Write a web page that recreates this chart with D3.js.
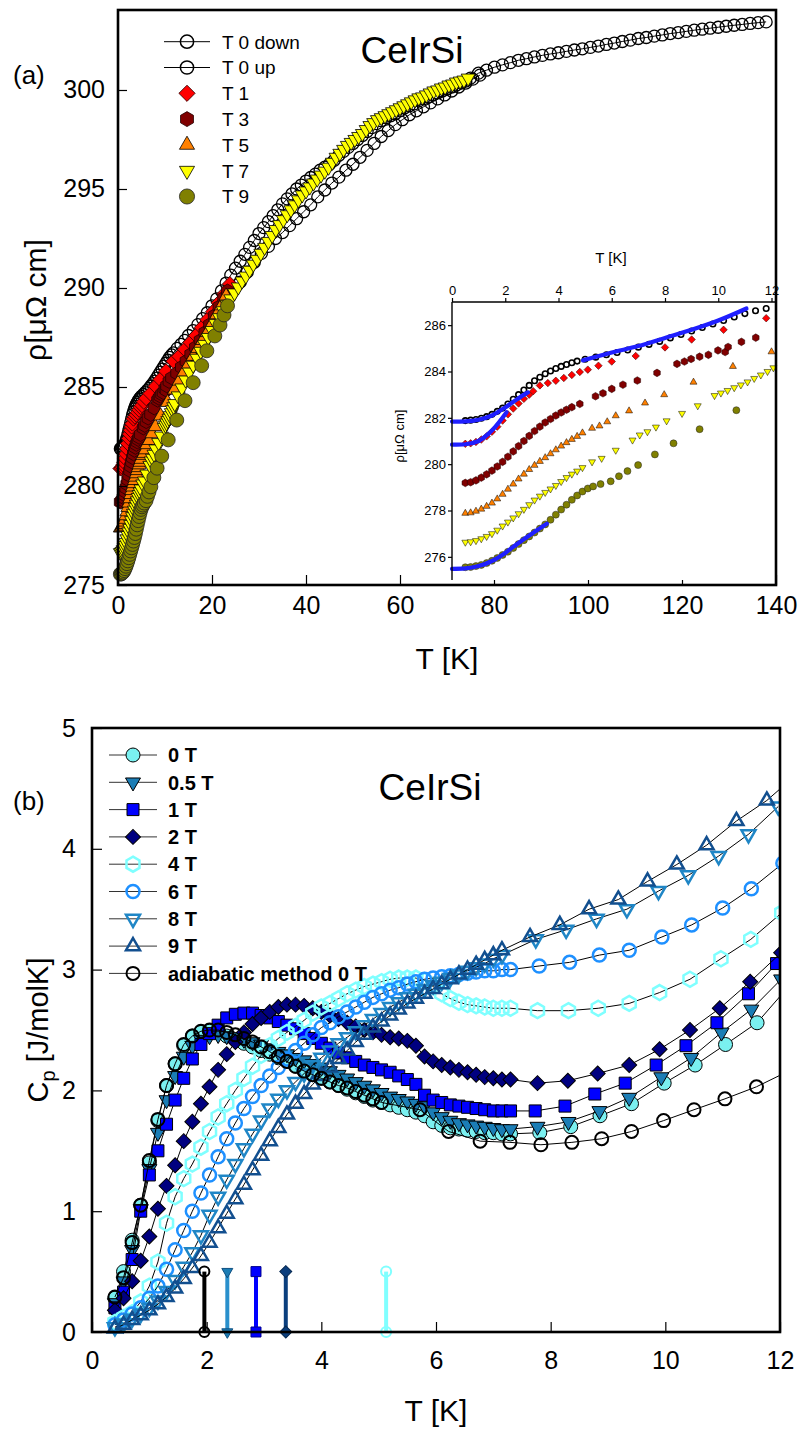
<!DOCTYPE html>
<html>
<head>
<meta charset="utf-8">
<script src="https://cdn.jsdelivr.net/npm/d3@7"></script>
<style>
  body { margin: 0; background: #fff; }
</style>
</head>
<body>
<div id="chart"></div>
<script>
// ---------- panel (a): resistivity, [T (K), rho (µΩ cm)] ----------
const rhoT0down = [
  [0.5,281.88],[0.7,281.9],[0.9,281.93],[1.1,281.98],[1.3,282.05],[1.5,282.15],[1.7,282.28],[1.9,282.42],
  [2.1,282.6],[2.3,282.8],[2.5,283.0],[2.7,283.2],[2.9,283.4],[3.1,283.6],[3.3,283.75],[3.5,283.9],
  [3.7,284.02],[3.9,284.13],[4.1,284.22],[4.3,284.3],[4.5,284.38],[4.7,284.45],[5.0,284.53],[5.4,284.62],
  [5.8,284.72],[6.2,284.82],[6.6,284.93],[7.0,285.05],[7.4,285.17],[7.8,285.3],[8.2,285.45],[8.6,285.6],
  [9.0,285.75],[9.4,285.9],[9.8,286.05],[10.2,286.2],[10.6,286.35],[11.0,286.5],[11.4,286.62],[11.8,286.72],
  [12.6,286.95],[13.4,287.15],[14.2,287.35],[15,287.6],[16,287.85],[17,288.15],[18,288.45],[19,288.75],
  [20,289.1],[21,289.45],[22,289.85],[23,290.25],[24,290.65],[25,291.0],[26,291.35],[27,291.7],
  [28,292.05],[29,292.4],[30,292.75],[31,293.05],[32,293.35],[33,293.65],[34,293.95],[35,294.25],
  [36,294.5],[37,294.75],[38,295.0],[39,295.2],[40,295.4],[41,295.58],[42,295.75],[43,295.95],
  [44,296.1],[45,296.25],[46,296.45],[47,296.7],[48,296.9],[49,297.1],[50,297.3],[51,297.5],
  [52,297.7],[53,297.9],[54,298.1],[55,298.3],[56,298.45],[57,298.6],[58,298.7],[59,298.8],
  [60,298.95],[61,299.1],[62,299.2],[63,299.3],[64,299.45],[65,299.55],[66,299.65],[67,299.75],
  [68,299.85],[69,299.95],[70,300.05],[71,300.15],[72,300.25],[73,300.35],[74,300.45],[75,300.6],
  [76.7,300.85],[78.4,301.0],[80.1,301.15],[81.8,301.27],[83.5,301.38],[85.2,301.5],[86.9,301.58],[88.6,301.67],
  [90.3,301.75],[92,301.82],[93.7,301.88],[95.4,301.95],[97.1,302.02],[98.8,302.08],[100.5,302.15],[102.2,302.22],
  [103.9,302.3],[105.6,302.37],[107.3,302.45],[109,302.52],[110.7,302.6],[112.4,302.65],[114.1,302.72],[115.8,302.78],
  [117.5,302.85],[119.2,302.9],[120.9,302.96],[122.6,303.02],[124.3,303.07],[126,303.12],[127.7,303.17],[129.4,303.22],
  [131.1,303.27],[132.8,303.31],[134.5,303.36],[136.2,303.4],[137.9,303.44]
];
const rhoT0up = [
  [26,290.3],[27.5,290.8],[29,291.3],[30.5,291.75],[32,292.1],[33.5,292.5],[35,292.8],[36.5,293.15],
  [38,293.5],[39.5,293.85],[41,294.2],[42.5,294.6],[44,294.95],[45.5,295.3],[47,295.6],[48.5,295.95],
  [50,296.25],[51.5,296.6],[53,296.95],[54.5,297.3],[56,297.65],[57.5,297.95],[59,298.25],[60.5,298.5],
  [62,298.75],[63.5,298.95],[65,299.15],[66.5,299.35],[68,299.55],[69.5,299.75],[71,299.95],[72.5,300.15],
  [74,300.35],[75.5,300.55],[77,300.75]
];
const rhoT1 = [
  [0.5,280.88],[0.7,280.9],[0.9,280.96],[1.1,281.06],[1.3,281.2],[1.5,281.4],[1.7,281.62],[1.9,281.88],
  [2.1,282.15],[2.3,282.4],[2.5,282.62],[2.7,282.82],[2.9,283.0],[3.05,283.15],[3.3,283.4],[3.6,283.5],
  [3.9,283.6],[4.2,283.72],[4.5,283.85],[4.8,283.98],[5.1,284.08],[5.5,284.25],[6.0,284.43],[6.9,284.67],
  [8.0,285.04],[9.0,285.38],[10.2,285.8],[11.8,286.3],[13,286.55],[14.2,286.9],[15.4,287.25],[16.6,287.6],
  [17.8,288.0],[19,288.4],[20.2,288.8],[21.4,289.25],[22.6,289.7],[23.8,290.2]
];
const rhoT3 = [
  [0.5,279.19],[0.7,279.22],[0.9,279.3],[1.1,279.42],[1.3,279.56],[1.5,279.72],[1.7,279.9],[1.9,280.1],
  [2.1,280.32],[2.3,280.55],[2.5,280.78],[2.7,281.0],[2.9,281.22],[3.1,281.43],[3.3,281.62],[3.5,281.8],
  [3.7,281.95],[3.9,282.1],[4.1,282.23],[4.3,282.35],[4.5,282.46],[4.8,282.6],[5.39,282.93],[5.67,283.06],
  [6.0,283.25],[6.42,283.43],[6.96,283.61],[7.7,283.94],[8.45,284.33],[8.73,284.43],[8.98,284.54],[9.3,284.64],
  [9.63,284.72],[9.99,284.91],[10.26,284.84],[10.37,285.06],[10.87,285.28],[11.41,285.46],[12.5,285.7],[13.5,286.0],
  [14.5,286.3],[15.5,286.65],[16.5,287.0],[17.5,287.35],[18.5,287.75],[19.5,288.15],[20.5,288.6],[21.5,289.05],
  [22.5,289.5],[23.3,289.85]
];
const rhoT5 = [
  [0.5,277.88],[0.7,277.9],[0.9,277.97],[1.1,278.06],[1.3,278.18],[1.5,278.32],[1.7,278.5],[1.9,278.7],
  [2.1,278.92],[2.3,279.14],[2.5,279.36],[2.7,279.57],[2.9,279.77],[3.1,279.95],[3.3,280.12],[3.5,280.28],
  [3.7,280.45],[3.9,280.62],[4.1,280.78],[4.3,280.93],[4.5,281.07],[4.7,281.2],[4.9,281.35],[5.26,281.55],
  [5.54,281.65],[5.83,281.83],[6.15,282.09],[6.65,282.3],[7.25,282.64],[7.97,283.0],[9.07,283.54],[10.55,284.22],
  [12,284.85],[13,285.3],[14,285.75],[15,286.15],[16,286.55],[17,286.95],[18,287.35],[19,287.75],
  [20,288.2],[21,288.65],[22,289.1],[23,289.6]
];
const rhoT7 = [
  [0.5,276.63],[0.7,276.65],[0.9,276.7],[1.1,276.78],[1.3,276.88],[1.5,277.0],[1.7,277.15],[1.9,277.33],
  [2.1,277.5],[2.3,277.68],[2.5,277.86],[2.7,278.05],[2.9,278.25],[3.1,278.45],[3.3,278.62],[3.5,278.78],
  [3.7,278.93],[3.9,279.08],[4.1,279.25],[4.3,279.42],[4.5,279.57],[4.7,279.7],[4.9,279.85],[5.26,280.1],
  [5.62,280.25],[6.15,280.6],[6.78,281.04],[7.05,281.26],[7.34,281.4],[7.66,281.6],[8.06,281.87],[8.64,282.19],
  [9.23,282.52],[9.86,282.96],[10.1,283.07],[10.35,283.18],[10.6,283.3],[10.85,283.42],[11.1,283.55],[11.35,283.7],
  [11.6,283.85],[11.85,284.0],[12.07,284.16],[12.8,284.55],[13.6,284.95],[14.4,285.35],[15.2,285.75],[16,286.1],
  [16.8,286.45],[17.6,286.8],[18.4,287.15],[19.2,287.5],[20,287.85],[20.8,288.2],[21.6,288.5],[22.4,288.85],
  [23.2,289.15],[24,289.45],[24.8,289.75],[25.6,290.05],[26.4,290.35],[27.2,290.6],[28,290.9],[28.8,291.2],
  [29.6,291.45],[30.4,291.75],[31.2,292.05],[32,292.35],[32.8,292.65],[33.6,292.95],[34.4,293.2],[35.2,293.45],
  [36,293.7],[36.8,293.95],[37.6,294.2],[38.4,294.45],[39.2,294.7],[40,294.9],[40.8,295.1],[41.6,295.3],
  [42.4,295.5],[43.2,295.7],[44,295.9],[44.8,296.1],[45.6,296.35],[46.4,296.6],[47.2,296.8],[48,297.0],
  [48.8,297.2],[49.6,297.35],[50.4,297.5],[51.2,297.65],[52,297.8],[52.8,298.0],[53.6,298.2],[54.4,298.35],
  [55.2,298.5],[56,298.6],[56.8,298.7],[57.6,298.8],[58.4,298.9],[59.2,299.0],[60,299.1],[60.8,299.2],
  [61.6,299.3],[62.4,299.4],[63.2,299.5],[64,299.6],[64.8,299.65],[65.6,299.75],[66.4,299.85],[67.2,299.95],
  [68,300.0],[68.8,300.1],[69.6,300.15],[70.4,300.25],[71.2,300.3],[72,300.4],[72.8,300.45],[73.6,300.5],
  [74.5,300.6]
];
const rhoT9 = [
  [0.5,275.55],[0.7,275.56],[0.9,275.6],[1.1,275.65],[1.3,275.73],[1.5,275.83],[1.7,275.95],[1.9,276.08],
  [2.1,276.22],[2.3,276.38],[2.5,276.55],[2.7,276.72],[2.9,276.88],[3.1,277.05],[3.3,277.22],[3.5,277.4],
  [3.7,277.6],[3.9,277.82],[4.1,278.04],[4.3,278.25],[4.5,278.46],[4.7,278.65],[4.9,278.82],[5.1,278.95],
  [5.3,279.04],[5.58,279.14],[5.96,279.26],[6.27,279.48],[6.59,279.7],[6.99,279.96],[7.62,280.42],[8.32,280.9],
  [9.3,281.51],[10.68,282.33],[12.5,283.33],[14.25,284.31],[16.0,285.22],[17.8,286.08],[18.9,286.83],[20.6,287.58],
  [21.7,288.13],[22.55,288.64],[23.3,289.1]
];
// blue fitted curves drawn in the inset
const fitA = [[0,281.84],[0.5,281.85],[1.0,281.92],[1.5,282.1],[2.0,282.45],[2.5,282.85],[2.85,283.1]];
const fitB = [[0,280.84],[0.5,280.86],[1.0,281.0],[1.5,281.45],[2.05,282.24]];
const fitC = [[0,275.48],[0.5,275.5],[1.0,275.6],[1.5,275.82],[2.0,276.17],[2.5,276.6],[3.0,277.0],[3.56,277.43]];
const fitD = [[4.92,284.48],[6,284.82],[7,285.1],[8,285.45],[9,285.8],[10,286.2],[11.06,286.72]];

const rhoTicks = [275, 280, 285, 290, 295, 300];
const tTicksA = [0, 20, 40, 60, 80, 100, 120, 140];
const insetRhoTicks = [276, 278, 280, 282, 284, 286];
const insetTTicks = [0, 2, 4, 6, 8, 10, 12];
const legendA = ["T 0 down", "T 0 up", "T 1", "T 3", "T 5", "T 7", "T 9"];

// ---------- panel (b): specific heat, C_p (J/molK) ----------
const tGrid = [0.40,0.55,0.70,0.85,1.00,1.15,1.30,1.45,1.60,1.75,1.90,2.05,2.20,2.35,2.50,2.65,2.80,2.95,
  3.10,3.25,3.40,3.55,3.70,3.85,4.00,4.15,4.30,4.45,4.60,4.75,4.90,5.05,5.20,5.35,5.50,5.65,5.80,5.95,
  6.10,6.25,6.40,6.55,6.70,6.85,7.00,7.15,7.30];
const cp0 = [0.28,0.50,0.76,1.05,1.40,1.75,2.04,2.22,2.37,2.45,2.48,2.49,2.48,2.45,2.42,2.39,2.36,2.33,
  2.30,2.27,2.24,2.20,2.16,2.13,2.10,2.07,2.04,2.01,1.98,1.95,1.92,1.90,1.88,1.86,1.84,1.82,1.79,1.74,
  1.71,1.69,1.68,1.67,1.66,1.65,1.65,1.64,1.64];
const cp0High = [[7.81,1.65],[8.35,1.70],[8.86,1.79],[9.41,1.89],[9.98,2.06],[10.52,2.21],[11.05,2.38],[11.6,2.56],[12.15,2.86]];
const cp05 = [0.24,0.42,0.68,1.02,1.35,1.65,1.92,2.12,2.28,2.37,2.42,2.45,2.46,2.45,2.44,2.42,2.40,2.38,
  2.35,2.32,2.30,2.27,2.25,2.22,2.19,2.16,2.13,2.10,2.07,2.04,2.01,1.98,1.95,1.93,1.91,1.89,1.87,1.82,
  1.78,1.75,1.73,1.72,1.71,1.70,1.69,1.68,1.68];
const cp05High = [[7.77,1.70],[8.31,1.74],[8.85,1.83],[9.37,1.94],[9.93,2.11],[10.45,2.27],[10.98,2.48],[11.5,2.67],[12.02,2.92]];
const cp1 = [0.20,0.33,0.60,1.00,1.30,1.50,1.72,1.92,2.10,2.26,2.38,2.47,2.54,2.60,2.63,2.64,2.64,2.62,
  2.60,2.57,2.54,2.51,2.47,2.43,2.39,2.35,2.31,2.27,2.24,2.21,2.19,2.17,2.15,2.12,2.09,2.05,1.96,1.92,
  1.90,1.88,1.87,1.86,1.85,1.84,1.83,1.83,1.83];
const cp1High = [[7.73,1.83],[8.25,1.87],[8.77,1.97],[9.3,2.06],[9.84,2.21],[10.36,2.37],[10.9,2.56],[11.45,2.80],[11.94,3.05]];
const cp2 = [0.18,0.28,0.42,0.59,0.79,1.02,1.21,1.38,1.58,1.74,1.89,2.03,2.17,2.30,2.40,2.48,2.55,2.60,
  2.65,2.69,2.71,2.71,2.70,2.68,2.65,2.62,2.59,2.56,2.53,2.50,2.48,2.46,2.44,2.43,2.41,2.37,2.28,2.24,
  2.21,2.19,2.17,2.15,2.13,2.11,2.10,2.09,2.09];
const cp2High = [[7.77,2.06],[8.3,2.08],[8.82,2.14],[9.37,2.21],[9.9,2.34],[10.43,2.50],[10.95,2.68],[11.48,2.90],[12.02,3.14]];
const cp4 = [0.08,0.12,0.16,0.25,0.38,0.58,0.90,1.12,1.27,1.39,1.53,1.66,1.78,1.89,2.00,2.10,2.20,2.29,
  2.37,2.43,2.48,2.53,2.58,2.64,2.69,2.72,2.76,2.80,2.83,2.86,2.88,2.90,2.92,2.93,2.93,2.93,2.91,2.86,
  2.80,2.76,2.73,2.71,2.70,2.69,2.68,2.68,2.68];
const cp4High = [[7.77,2.66],[8.31,2.66],[8.83,2.68],[9.37,2.72],[9.9,2.81],[10.43,2.92],[10.97,3.09],[11.49,3.25],[12.03,3.47]];
const cp6 = [0.06,0.10,0.15,0.20,0.28,0.38,0.52,0.68,0.84,1.00,1.15,1.30,1.45,1.60,1.73,1.85,1.95,2.04,
  2.12,2.19,2.26,2.33,2.39,2.46,2.52,2.56,2.61,2.65,2.69,2.73,2.77,2.80,2.83,2.85,2.88,2.90,2.92,2.93,
  2.94,2.95,2.96,2.97,2.98,2.99,2.99,3.00,3.00];
const cp6High = [[7.8,3.03],[8.33,3.06],[8.85,3.12],[9.37,3.16],[9.94,3.27],[10.46,3.37],[11.0,3.51],[11.5,3.67],[12.05,3.88]];
const cp8 = [0.04,0.07,0.11,0.15,0.20,0.26,0.34,0.43,0.54,0.66,0.80,0.97,1.12,1.26,1.39,1.52,1.64,1.75,
  1.85,1.93,2.00,2.07,2.14,2.21,2.27,2.33,2.39,2.44,2.49,2.54,2.59,2.64,2.69,2.73,2.77,2.80,2.84,2.87,
  2.90,2.93,2.96,2.99,3.02,3.05,3.09,3.12];
const cp8High = [[7.74,3.25],[8.27,3.33],[8.8,3.42],[9.33,3.50],[9.88,3.65],[10.4,3.78],[10.93,3.94],[11.45,4.12],[11.97,4.35]];
const cp9 = [0.03,0.06,0.10,0.14,0.18,0.23,0.29,0.36,0.44,0.53,0.63,0.74,0.86,0.98,1.10,1.22,1.34,1.46,
  1.58,1.69,1.80,1.89,1.97,2.05,2.12,2.19,2.26,2.33,2.40,2.46,2.52,2.57,2.62,2.67,2.72,2.76,2.80,2.84,
  2.88,2.92,2.96,3.00,3.04,3.08,3.12,3.16];
const cp9High = [[7.64,3.27],[8.16,3.37],[8.67,3.50],[9.18,3.58],[9.69,3.73],[10.2,3.87],[10.72,4.03],[11.24,4.23],[11.77,4.40],[12.3,4.62]];
const cpAd = [0.29,0.45,0.74,1.05,1.42,1.76,2.04,2.22,2.38,2.45,2.49,2.50,2.50,2.48,2.46,2.43,2.40,2.36,
  2.32,2.28,2.24,2.20,2.16,2.13,2.10,2.07,2.04,2.02,1.99,1.96,1.93,1.90];
const cpAdHigh = [[5.72,1.84],[6.22,1.66],[6.77,1.58],[7.29,1.57],[7.83,1.55],[8.37,1.57],[8.89,1.60],[9.41,1.66],
  [9.97,1.75],[10.5,1.84],[11.04,1.93],[11.59,2.03],[12.15,2.16]];
const legendB = ["0 T", "0.5 T", "1 T", "2 T", "4 T", "6 T", "8 T", "9 T", "adiabatic method 0 T"];
// transition temperatures marked at the bottom (adiabatic, 0.5 T, 1 T, 2 T, 4 T)
const tcValues = [1.96, 2.36, 2.86, 3.38, 5.13];
const cpTicks = [0, 1, 2, 3, 4, 5];
const tTicksB = [0, 2, 4, 6, 8, 10, 12];

// ---------- drawing ----------
const FONT = '"Liberation Sans", Arial, Helvetica, sans-serif';
const svg = d3.select("#chart").append("svg")
    .attr("width", 803)
    .attr("height", 1430)
    .style("font-family", FONT);

// pointy-top hexagon as a d3 symbol type
const symbolHexagon = {
  draw(context, size) {
    const r = Math.sqrt(size / (1.5 * Math.sqrt(3)));
    for (let i = 0; i < 6; i++) {
      const a = Math.PI / 3 * i - Math.PI / 2;
      if (i === 0) context.moveTo(r * Math.cos(a), r * Math.sin(a));
      else context.lineTo(r * Math.cos(a), r * Math.sin(a));
    }
    context.closePath();
  }
};

// w = rough marker width in px
function symPath(shape, w) {
  let type = d3.symbolCircle, size = Math.PI * w * w / 4;
  if (shape === "square") { type = d3.symbolSquare; size = w * w; }
  if (shape === "diamond") { type = d3.symbolSquare; size = w * w / 2; }
  if (shape === "up" || shape === "down") { type = d3.symbolTriangle; size = Math.sqrt(3) / 4 * w * w; }
  if (shape === "hex") { type = symbolHexagon; size = Math.sqrt(3) / 2 * w * w; }
  return d3.symbol().type(type).size(size)();
}
function rotOf(shape) {
  return shape === "down" ? " rotate(180)" : shape === "diamond" ? " rotate(45)" : "";
}
function drawMarks(g, data, x, y, st) {
  g.append("g").selectAll("path")
    .data(data)
    .enter().append("path")
    .attr("d", symPath(st.shape, st.w))
    .attr("transform", d => `translate(${x(d[0])},${y(d[1])})` + rotOf(st.shape))
    .attr("fill", st.fill)
    .attr("stroke", st.stroke)
    .attr("stroke-width", st.sw);
}
function drawLine(g, data, x, y, color, width) {
  g.append("path")
    .datum(data)
    .attr("fill", "none")
    .attr("stroke", color)
    .attr("stroke-width", width)
    .attr("d", d3.line().x(d => x(d[0])).y(d => y(d[1])));
}
function styleAxis(g, size) {
  g.select(".domain").remove();
  g.attr("font-family", FONT).attr("font-size", size);
  g.selectAll(".tick line").attr("stroke", "#000").attr("stroke-width", 1.2);
  g.selectAll(".tick text").attr("fill", "#000");
}

// ===== panel (a) =====
const A = { left: 118, right: 776, top: 10, bottom: 585 };
const xA = d3.scaleLinear().domain([0, 140]).range([A.left, A.right]);
const yA = d3.scaleLinear().domain([275, 304.04]).range([A.bottom, A.top]);

const seriesA = [
  { data: rhoT0down, line: true, st: { shape: "circle", w: 12, fill: "none", stroke: "#000", sw: 1.3 } },
  { data: rhoT0up,   line: true, st: { shape: "circle", w: 12, fill: "none", stroke: "#000", sw: 1.3 } },
  { data: rhoT1, st: { shape: "diamond", w: 15, fill: "#FF0000", stroke: "#300", sw: 0.8 } },
  { data: rhoT3, st: { shape: "hex", w: 12, fill: "#800000", stroke: "#200", sw: 0.8 } },
  { data: rhoT5, st: { shape: "up", w: 14, fill: "#FF8000", stroke: "#000", sw: 0.8 } },
  { data: rhoT7, st: { shape: "down", w: 14, fill: "#FFFF00", stroke: "#000", sw: 0.8 } },
  { data: rhoT9, st: { shape: "circle", w: 14, fill: "#808000", stroke: "#222", sw: 0.8 } }
];

const gA = svg.append("g");
seriesA.forEach(s => {
  if (s.line) drawLine(gA, s.data, xA, yA, "#000", 1);
  drawMarks(gA, s.data, xA, yA, s.st);
});

const axAx = svg.append("g").attr("transform", `translate(0,${A.bottom})`)
    .call(d3.axisBottom(xA).tickValues(tTicksA).tickSize(-10).tickPadding(11));
styleAxis(axAx, 25);
const axAy = svg.append("g").attr("transform", `translate(${A.left},0)`)
    .call(d3.axisLeft(yA).tickValues(rhoTicks).tickSize(-9).tickPadding(13));
styleAxis(axAy, 25);

// inset
const I = { left: 452, right: 775, top: 302, bottom: 580 };
const xI = d3.scaleLinear().domain([0, 12]).range([I.left, 771.5]);
const yI = d3.scaleLinear().domain([275, 287]).range([I.bottom, I.top]);
svg.append("rect").attr("x", I.left).attr("y", I.top)
    .attr("width", I.right - I.left).attr("height", I.bottom - I.top).attr("fill", "#fff");
const gI = svg.append("g");
const insetW = [5.5, 5.5, 7.5, 6.6, 7, 7, 7];
const insetSw = [1.6, 1.6, 0.5, 0.5, 0.5, 0.5, 0.5];
seriesA.forEach((s, i) => {
  const pts = s.data.filter(d => d[0] <= 12.1);
  if (!pts.length) return;
  const st = Object.assign({}, s.st, { w: insetW[i], sw: insetSw[i] });
  drawMarks(gI, pts, xI, yI, st);
});
[fitA, fitB, fitC, fitD].forEach(f => {
  gI.append("path").datum(f)
    .attr("fill", "none").attr("stroke", "#1F1FFF").attr("stroke-width", 4.2)
    .attr("stroke-linecap", "round")
    .attr("d", d3.line().x(d => xI(d[0])).y(d => yI(d[1])).curve(d3.curveMonotoneX));
});
const axIx = svg.append("g").attr("transform", `translate(0,${I.top})`)
    .call(d3.axisTop(xI).tickValues(insetTTicks).tickSize(4).tickPadding(3));
styleAxis(axIx, 13);
const axIy = svg.append("g").attr("transform", `translate(${I.left},0)`)
    .call(d3.axisLeft(yI).tickValues(insetRhoTicks).tickSize(4).tickPadding(2));
styleAxis(axIy, 13);
svg.append("line").attr("x1", I.left).attr("x2", I.right).attr("y1", I.top).attr("y2", I.top)
    .attr("stroke", "#000").attr("stroke-width", 1.4);
svg.append("line").attr("x1", I.left).attr("x2", I.left).attr("y1", I.top).attr("y2", I.bottom)
    .attr("stroke", "#000").attr("stroke-width", 1.4);
svg.append("text").attr("x", 611).attr("y", 263).attr("text-anchor", "middle")
    .attr("font-size", 15).text("T [K]");
svg.append("text").attr("transform", "translate(404,436) rotate(-90)").attr("text-anchor", "middle")
    .attr("font-size", 13).text("ρ[μΩ cm]");

// frame of (a)
svg.append("rect").attr("x", A.left).attr("y", A.top)
    .attr("width", A.right - A.left).attr("height", A.bottom - A.top)
    .attr("fill", "none").attr("stroke", "#000").attr("stroke-width", 2.6);

// legend (a)
const legA = svg.append("g");
legendA.forEach((name, i) => {
  const yy = 41.7 + i * 25.8;
  const s = seriesA[i];
  if (s.line) legA.append("line").attr("x1", 164).attr("x2", 210).attr("y1", yy).attr("y2", yy)
      .attr("stroke", "#000").attr("stroke-width", 1);
  const st = Object.assign({}, s.st, { w: s.st.w * (i < 2 ? 1.1 : 1.08), sw: i < 2 ? 1.5 : s.st.sw });
  drawMarks(legA, [[0, 0]], () => 187, () => yy, st);
  legA.append("text").attr("x", 222).attr("y", yy).attr("dy", "0.36em")
      .attr("font-size", 19).text(name);
});

svg.append("text").attr("x", 412).attr("y", 63).attr("text-anchor", "middle")
    .attr("font-size", 37).text("CeIrSi");
svg.append("text").attr("x", 13).attr("y", 84).attr("font-size", 26).text("(a)");
svg.append("text").attr("x", (A.left + A.right) / 2).attr("y", 669).attr("text-anchor", "middle")
    .attr("font-size", 30).text("T [K]");
svg.append("text").attr("transform", "translate(46,300) rotate(-90)").attr("text-anchor", "middle")
    .attr("font-size", 30).text("ρ[μΩ cm]");

// ===== panel (b) =====
const B = { left: 92, right: 780, top: 728, bottom: 1332 };
const xB = d3.scaleLinear().domain([0, 12]).range([B.left, B.right]);
const yB = d3.scaleLinear().domain([0, 5]).range([B.bottom, B.top]);

function joinGrid(cp, high) {
  return cp.map((c, i) => [tGrid[i], c]).concat(high);
}
const seriesB = [
  { data: joinGrid(cp0, cp0High),   st: { shape: "circle", w: 14, fill: "#7AF0F0", stroke: "#000", sw: 1 } },
  { data: joinGrid(cp05, cp05High), st: { shape: "down", w: 15, fill: "#1B7DB5", stroke: "#000", sw: 1 } },
  { data: joinGrid(cp1, cp1High),   st: { shape: "square", w: 12, fill: "#0000FF", stroke: "#000", sw: 1 } },
  { data: joinGrid(cp2, cp2High),   st: { shape: "diamond", w: 15, fill: "#000080", stroke: "#000", sw: 1 } },
  { data: joinGrid(cp4, cp4High),   st: { shape: "hex", w: 13, fill: "none", stroke: "#7FFFFF", sw: 2.5 } },
  { data: joinGrid(cp6, cp6High),   st: { shape: "circle", w: 13, fill: "none", stroke: "#1E90FF", sw: 2.5 } },
  { data: joinGrid(cp8, cp8High),   st: { shape: "down", w: 14, fill: "none", stroke: "#1F86C6", sw: 2.5 } },
  { data: joinGrid(cp9, cp9High),   st: { shape: "up", w: 14, fill: "none", stroke: "#124F8F", sw: 2.5 } },
  { data: joinGrid(cpAd, cpAdHigh), st: { shape: "circle", w: 13, fill: "none", stroke: "#000", sw: 2 } }
];

svg.append("clipPath").attr("id", "clipB").append("rect")
    .attr("x", B.left - 20).attr("y", B.top).attr("width", B.right - B.left + 20).attr("height", B.bottom - B.top + 20);
const gB = svg.append("g").attr("clip-path", "url(#clipB)");
seriesB.forEach(s => {
  drawLine(gB, s.data, xB, yB, "#000", 1);
  drawMarks(gB, s.data, xB, yB, s.st);
});

// Tc markers
const tcStyles = [
  { color: "#000", st: { shape: "circle", w: 10, fill: "none", stroke: "#000", sw: 2 } },
  { color: "#2A90CC", st: { shape: "down", w: 11, fill: "#1B7DB5", stroke: "#0F4F80", sw: 1 } },
  { color: "#0000FF", st: { shape: "square", w: 10, fill: "#0000FF", stroke: "#000090", sw: 1 } },
  { color: "#0B3F7E", st: { shape: "diamond", w: 12, fill: "#0B3F7E", stroke: "#062850", sw: 1 } },
  { color: "#80FFFF", st: { shape: "circle", w: 10, fill: "none", stroke: "#80FFFF", sw: 2 } }
];
tcValues.forEach((t, i) => {
  const s = tcStyles[i];
  svg.append("line").attr("x1", xB(t)).attr("x2", xB(t)).attr("y1", yB(0)).attr("y2", yB(0.5))
      .attr("stroke", s.color).attr("stroke-width", 4);
  drawMarks(svg, [[t, 0], [t, 0.5]], xB, yB, s.st);
});

const axBx = svg.append("g").attr("transform", `translate(0,${B.bottom})`)
    .call(d3.axisBottom(xB).tickValues(tTicksB).tickSize(-10).tickPadding(19));
styleAxis(axBx, 25);
const axBy = svg.append("g").attr("transform", `translate(${B.left},0)`)
    .call(d3.axisLeft(yB).tickValues(cpTicks).tickFormat(d3.format("d")).tickSize(-10).tickPadding(16));
styleAxis(axBy, 25);

svg.append("rect").attr("x", B.left).attr("y", B.top)
    .attr("width", B.right - B.left).attr("height", B.bottom - B.top)
    .attr("fill", "none").attr("stroke", "#000").attr("stroke-width", 2.6);

// legend (b)
const legB = svg.append("g");
legendB.forEach((name, i) => {
  const yy = 755 + i * 27.3;
  legB.append("line").attr("x1", 109).attr("x2", 157).attr("y1", yy).attr("y2", yy)
      .attr("stroke", "#333").attr("stroke-width", 1);
  drawMarks(legB, [[0, 0]], () => 133, () => yy, seriesB[i].st);
  legB.append("text").attr("x", 168).attr("y", yy).attr("dy", "0.36em")
      .attr("font-size", 20).attr("font-weight", "bold").text(name);
});

svg.append("text").attr("x", 430).attr("y", 800).attr("text-anchor", "middle")
    .attr("font-size", 37).text("CeIrSi");
svg.append("text").attr("x", 13).attr("y", 810).attr("font-size", 26).text("(b)");
svg.append("text").attr("x", (B.left + B.right) / 2).attr("y", 1421).attr("text-anchor", "middle")
    .attr("font-size", 30).text("T [K]");
const cpLabel = svg.append("text").attr("transform", "translate(48,1030) rotate(-90)")
    .attr("text-anchor", "middle").attr("font-size", 29);
cpLabel.append("tspan").text("C");
cpLabel.append("tspan").attr("font-size", 20).attr("dy", 7).text("p");
cpLabel.append("tspan").attr("dy", -7).text(" [J/molK]");
</script>
</body>
</html>
